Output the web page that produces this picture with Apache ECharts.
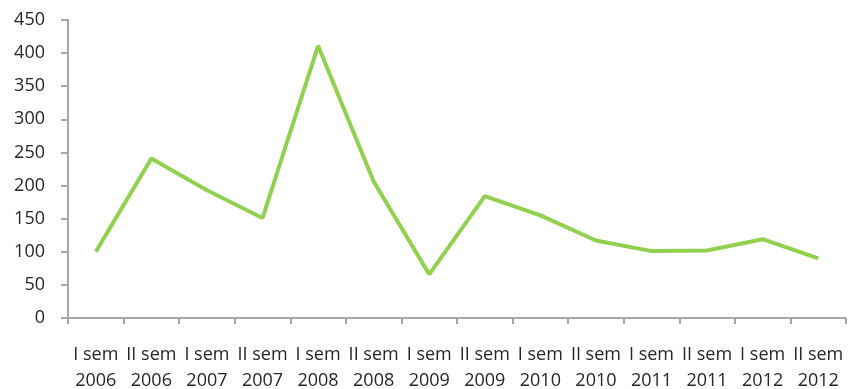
<!DOCTYPE html>
<html>
<head>
<meta charset="utf-8">
<script src="https://cdn.jsdelivr.net/npm/echarts@6/dist/echarts.min.js"></script>
<style>
  html, body { margin: 0; padding: 0; background: #fff; }
  #chart { width: 848px; height: 389px; }
</style>
</head>
<body>
<div id="chart"></div>
<script>
// semesters and values
const semesters = ['I sem', 'II sem', 'I sem', 'II sem', 'I sem', 'II sem', 'I sem', 'II sem', 'I sem', 'II sem', 'I sem', 'II sem', 'I sem', 'II sem'];
const years = ['2006', '2006', '2007', '2007', '2008', '2008', '2009', '2009', '2010', '2010', '2011', '2011', '2012', '2012'];
const values = [100, 241, 193, 151, 411, 206, 66, 184, 155, 117, 101, 102, 119, 90];

const categories = semesters.map((s, i) => s + '\n' + years[i]);

let chart = echarts.init(document.getElementById('chart'));
let option = {
  animation: false,
  grid: {
    left: 68,
    right: 2,
    top: 20,
    bottom: 71,
    outerBoundsMode: 'none'
  },
  xAxis: {
    type: 'category',
    boundaryGap: true,
    data: categories,
    axisLine: { lineStyle: { color: '#a6a6a6', width: 2 } },
    axisTick: { show: true, length: 6, lineStyle: { color: '#a6a6a6', width: 2 } },
    axisLabel: {
      interval: 0,
      margin: 24,
      color: '#262626',
      fontSize: 18,
      lineHeight: 26,
      fontFamily: 'Open Sans'
    }
  },
  yAxis: {
    type: 'value',
    min: 0,
    max: 450,
    interval: 50,
    splitLine: { show: false },
    axisLine: { show: true, lineStyle: { color: '#a6a6a6', width: 2 } },
    axisTick: { show: true, length: 7, lineStyle: { color: '#a6a6a6', width: 2 } },
    axisLabel: {
      margin: 23,
      color: '#262626',
      fontSize: 18,
      fontFamily: 'Open Sans'
    }
  },
  series: [
    {
      type: 'line',
      data: values,
      symbol: 'none',
      lineStyle: { color: '#92d050', width: 4 }
    }
  ]
};
chart.setOption(option);
</script>
</body>
</html>
